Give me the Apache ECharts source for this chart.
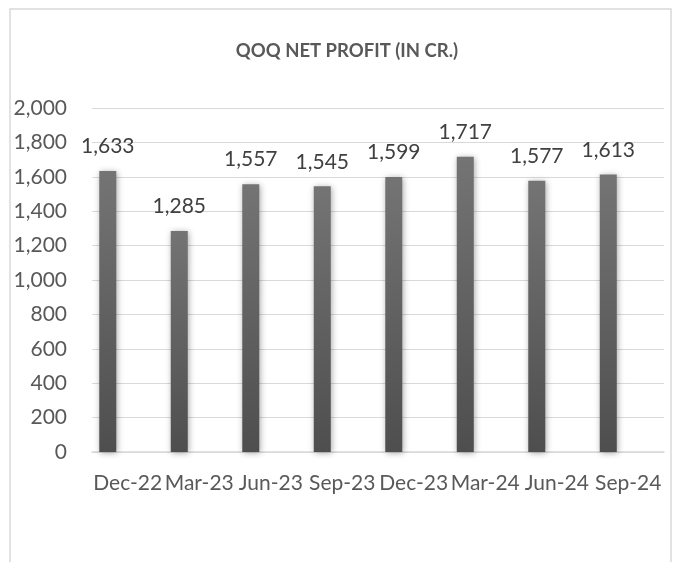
<!DOCTYPE html>
<html>
<head>
<meta charset="utf-8">
<script src="https://cdn.jsdelivr.net/npm/echarts@6/dist/echarts.min.js"></script>
<style>
html,body{margin:0;padding:0;background:#fff;}
#chart{width:678px;height:562px;}
</style>
</head>
<body>
<div id="chart"></div>
<script>
const titleText = 'QOQ NET PROFIT (IN CR.)';
const categories = ['Dec-22', 'Mar-23', 'Jun-23', 'Sep-23', 'Dec-23', 'Mar-24', 'Jun-24', 'Sep-24'];
const netProfit = [1633, 1285, 1557, 1545, 1599, 1717, 1577, 1613];
const yTicks = { min: 0, max: 2000, interval: 200 };

const FONT = 'Lato';
const chart = echarts.init(document.getElementById('chart'), null, { renderer: 'canvas' });
const fmt = v => Number(v).toLocaleString('en-US');

chart.setOption({
  backgroundColor: '#ffffff',
  animation: false,
  graphic: [{
    type: 'rect',
    shape: { x: 10, y: 9, width: 661, height: 620 },
    style: { fill: 'none', stroke: '#d9d9d9', lineWidth: 1.5 },
    silent: true
  }],
  title: {
    text: titleText,
    left: 342,
    textAlign: 'center',
    top: 37,
    textStyle: { fontFamily: FONT, fontSize: 18.5, fontWeight: 'bold', color: '#595959' }
  },
  grid: { left: 92, right: 14, top: 108, bottom: 110, containLabel: false },
  xAxis: {
    type: 'category',
    data: categories,
    axisLine: { show: true, lineStyle: { color: '#d9d9d9', width: 1.5 } },
    axisTick: { show: false },
    axisLabel: { color: '#595959', fontFamily: FONT, fontSize: 21, margin: 21, interval: 0 }
  },
  yAxis: {
    type: 'value',
    min: yTicks.min, max: yTicks.max, interval: yTicks.interval,
    axisLine: { show: false },
    axisTick: { show: false },
    splitLine: { lineStyle: { color: '#d9d9d9', width: 1.2 } },
    axisLabel: { color: '#595959', fontFamily: FONT, fontSize: 21, margin: 25, formatter: fmt }
  },
  series: [{
    name: 'Net Profit',
    type: 'bar',
    data: netProfit,
    barWidth: 17,
    barGap: '135%',
    itemStyle: {
      color: new echarts.graphic.LinearGradient(0, 0, 0, 1, [
        { offset: 0, color: '#747474' },
        { offset: 1, color: '#4e4e4e' }
      ]),
      shadowBlur: 6,
      shadowColor: 'rgba(0,0,0,0.35)',
      shadowOffsetX: 1,
      shadowOffsetY: 1
    },
    label: {
      show: true,
      position: 'top',
      distance: 14,
      color: '#404040',
      fontFamily: FONT,
      fontSize: 21,
      formatter: p => fmt(p.value)
    }
  }, {
    name: 'Placeholder',
    type: 'bar',
    data: [],
    barWidth: 17
  }]
});
</script>
</body>
</html>
